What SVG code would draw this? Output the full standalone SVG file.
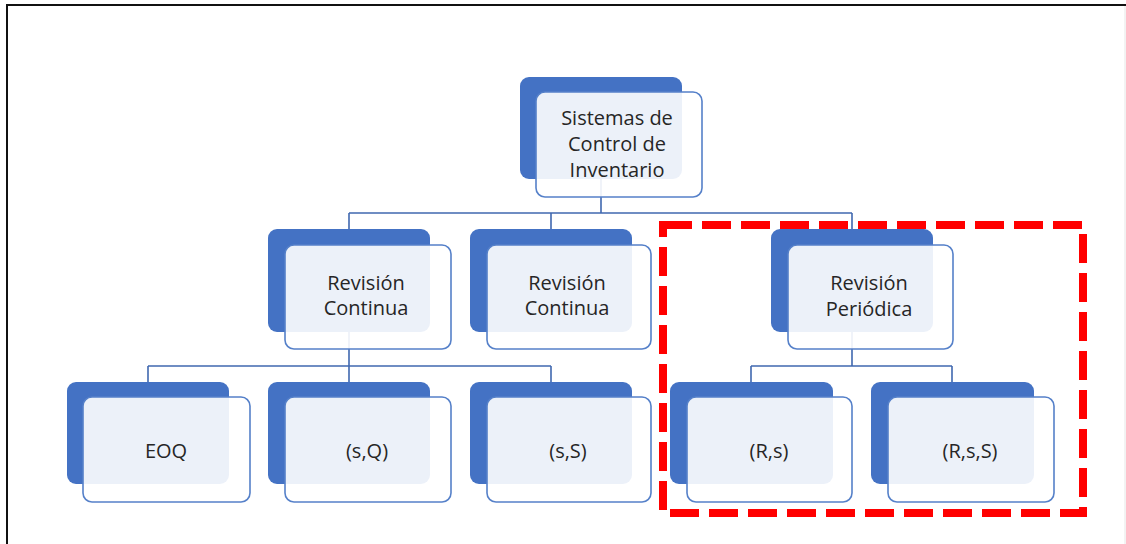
<svg xmlns="http://www.w3.org/2000/svg" width="1126" height="544" viewBox="0 0 1126 544">
<style>
.back{fill:#4472c4}
.front{fill:#ffffff;fill-opacity:0.9;stroke:#5580c9;stroke-width:1.6}
.conn{fill:none;stroke:#4068b0;stroke-width:1.6}
.lbl{font-family:"Open Sans","Noto Sans",sans-serif;font-size:20px;fill:#262626;text-anchor:middle}
</style>
<rect x="0" y="0" width="1126" height="544" fill="#ffffff"/>
<g id="frame">
<path d="M7 544 V5 H1126" fill="none" stroke="#111111" stroke-width="2"/>
<path d="M1125 6 V544" fill="none" stroke="#e6e6e6" stroke-width="1"/>
</g>
<g id="connectors">
<path class="conn" d="M601 179 V213 M349 213 H852 M349 213 V229 M551 213 V229 M852 213 V229"/>
<path class="conn" d="M349 332 V366 M148 366 H551 M148 366 V382 M349 366 V382 M551 366 V382"/>
<path class="conn" d="M852 332 V366 M751 366 H952 M751 366 V382 M952 366 V382"/>
</g>
<g id="n-root">
<rect class="back" x="520" y="77" width="162" height="102" rx="9"/>
<rect class="front" x="536" y="92" width="166" height="105" rx="9"/>
<text class="lbl" x="617" y="125">Sistemas de</text>
<text class="lbl" x="617" y="151">Control de</text>
<text class="lbl" x="617" y="177">Inventario</text>
</g>
<g id="n-rc1">
<rect class="back" x="268" y="229" width="162" height="103" rx="9"/>
<rect class="front" x="285" y="245" width="166" height="104" rx="9"/>
<text class="lbl" x="366" y="290">Revisión</text>
<text class="lbl" x="366" y="315">Continua</text>
</g>
<g id="n-rc2">
<rect class="back" x="470" y="229" width="162" height="103" rx="9"/>
<rect class="front" x="487" y="245" width="164" height="104" rx="9"/>
<text class="lbl" x="567" y="290">Revisión</text>
<text class="lbl" x="567" y="315">Continua</text>
</g>
<g id="n-rp">
<rect class="back" x="771" y="229" width="162" height="103" rx="9"/>
<rect class="front" x="788" y="245" width="165" height="104" rx="9"/>
<text class="lbl" x="869" y="290">Revisión</text>
<text class="lbl" x="869" y="316">Periódica</text>
</g>
<g id="n-eoq">
<rect class="back" x="67" y="382" width="162" height="102" rx="9"/>
<rect class="front" x="83" y="397" width="167" height="105" rx="9"/>
<text class="lbl" x="166" y="458">EOQ</text>
</g>
<g id="n-sq">
<rect class="back" x="268" y="382" width="162" height="102" rx="9"/>
<rect class="front" x="285" y="397" width="166" height="105" rx="9"/>
<text class="lbl" x="367" y="458">(s,Q)</text>
</g>
<g id="n-sS">
<rect class="back" x="470" y="382" width="162" height="102" rx="9"/>
<rect class="front" x="487" y="397" width="164" height="105" rx="9"/>
<text class="lbl" x="568" y="458">(s,S)</text>
</g>
<g id="n-Rs">
<rect class="back" x="670" y="382" width="163" height="102" rx="9"/>
<rect class="front" x="687" y="397" width="165" height="105" rx="9"/>
<text class="lbl" x="769" y="458">(R,s)</text>
</g>
<g id="n-RsS">
<rect class="back" x="871" y="382" width="163" height="102" rx="9"/>
<rect class="front" x="888" y="397" width="166" height="105" rx="9"/>
<text class="lbl" x="970" y="458">(R,s,S)</text>
</g>
<g id="highlight">
<rect x="663" y="225" width="420" height="288" fill="none" stroke="#ff0000" stroke-width="8" stroke-dasharray="29 10"/>
</g>
</svg>
